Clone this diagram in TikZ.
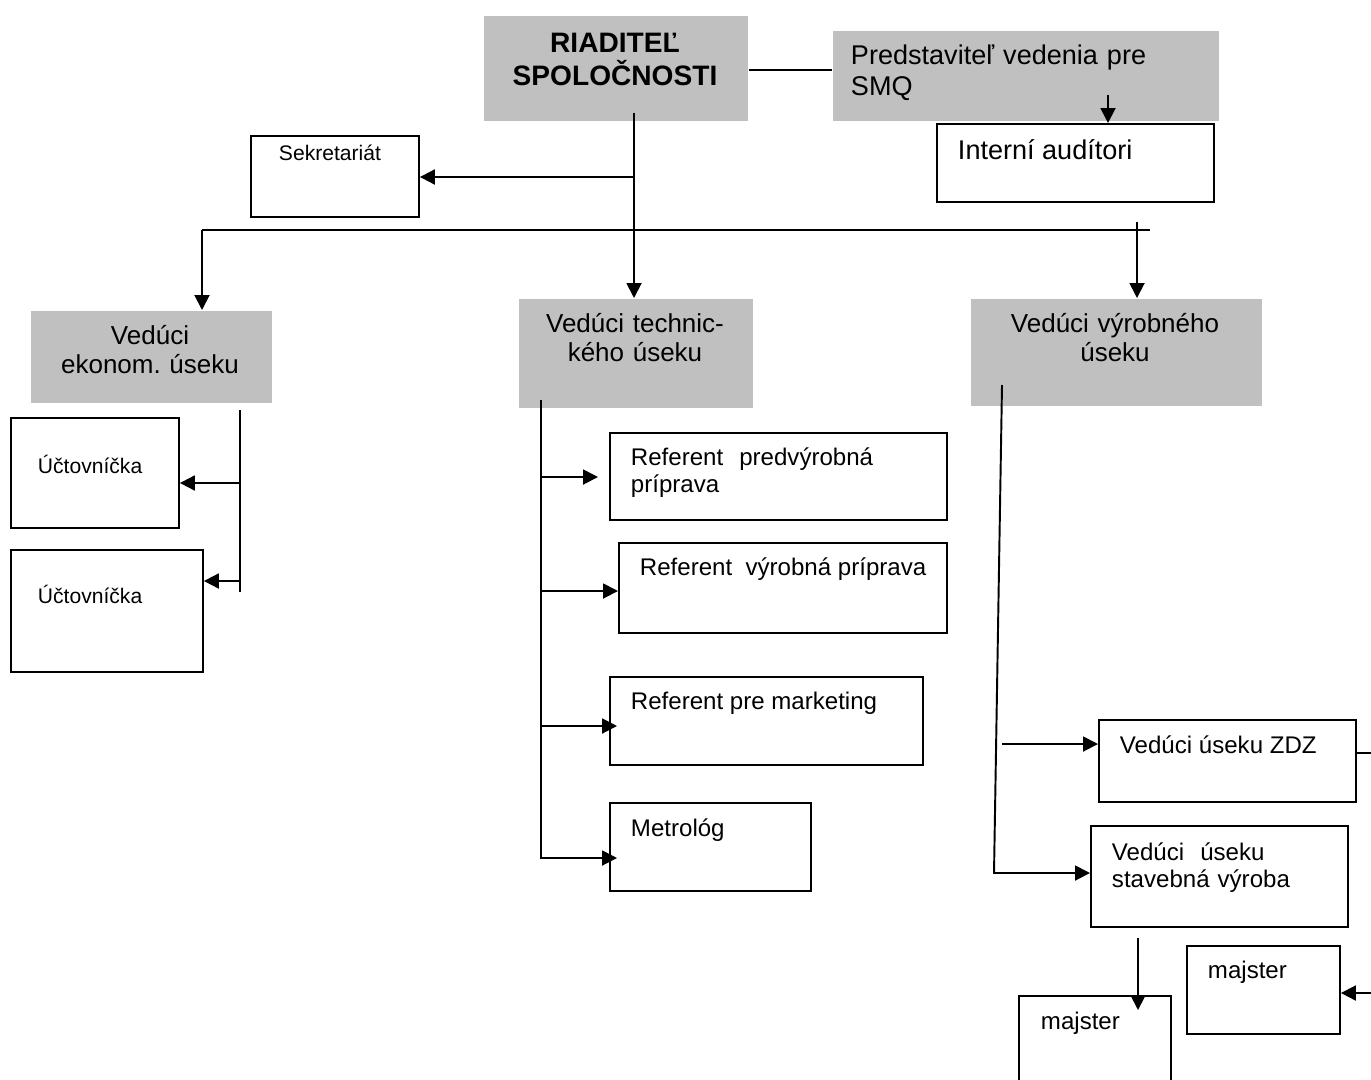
\documentclass[tikz,border=0pt]{standalone}
\usepackage{fontspec}
\setmainfont{Liberation Sans}
\usepackage{xcolor}
\usetikzlibrary{arrows.meta,positioning}
\definecolor{boxgray}{RGB}{192,192,192}
\frenchspacing

\begin{document}
\begin{tikzpicture}[x=0.02cm, y=-0.02cm, line width=1.1pt,
	arr/.style={-{Triangle[length=0.3cm, width=0.3cm]}},
	cell/.style={draw, anchor=north west, inner sep=0pt},
	head/.style={fill=boxgray, anchor=north west, inner sep=0pt},
	txt/.style={anchor=base west, inner sep=0pt, font=\fontsize{13.7}{15.9}\selectfont},
	bigtxt/.style={txt, font=\fontsize{15.4}{18.2}\selectfont},
	smalltxt/.style={txt, font=\fontsize{12}{14}\selectfont},
	htxt/.style={anchor=base, inner sep=0pt, align=center, text width=5.4cm, font=\fontsize{14.8}{17}\selectfont}]
	\useasboundingbox (0,0) rectangle (1371,1079);

	% boxes
	\node (dir) [head, minimum width=5.28cm, minimum height=2.1cm] at (483,15) {};
	\node (smq) [head, minimum width=7.72cm, minimum height=1.8cm] at (832,30) {};
	\node (aud) [cell, minimum width=5.54cm, minimum height=1.56cm] at (936,123) {};
	\node (sekr) [cell, minimum width=3.36cm, minimum height=1.62cm] at (250,135) {};
	\node (ekon) [head, minimum width=4.82cm, minimum height=1.84cm] at (30,310) {};
	\node (tech) [head, minimum width=4.68cm, minimum height=2.18cm] at (518,298) {};
	\node (vyr) [head, minimum width=5.82cm, minimum height=2.14cm] at (970,298) {};
	\node (ucto1) [cell, minimum width=3.36cm, minimum height=2.2cm] at (10,417) {};
	\node (ucto2) [cell, minimum width=3.84cm, minimum height=2.44cm] at (10,549) {};
	\node (ref1) [cell, minimum width=6.74cm, minimum height=1.74cm] at (609,432) {};
	\node (ref2) [cell, minimum width=6.56cm, minimum height=1.8cm] at (618,542) {};
	\node (ref3) [cell, minimum width=6.26cm, minimum height=1.76cm] at (609,676) {};
	\node (metro) [cell, minimum width=4.02cm, minimum height=1.76cm] at (609,802) {};
	\node (zdz) [cell, minimum width=5.14cm, minimum height=1.64cm] at (1098,719) {};
	\node (stav) [cell, minimum width=5.14cm, minimum height=2.02cm] at (1090,825) {};
	\node (majR) [cell, minimum width=3.06cm, minimum height=1.76cm] at (1186,945) {};
	\node (majL) [cell, minimum width=3.04cm, minimum height=1.9cm] at (1018,995) {};

	% top part
	\coordinate (trunk) at (634,113);
	\coordinate (barL) at (202,230);
	\coordinate (barR) at (1150,230);
	\draw (dir.east |- 0,70) -- (smq.west |- 0,70);
	\draw[arr] (1108,95) -- (aud.north -| 1108,0);
	\draw[arr] (trunk) -- (tech.north -| trunk);
	\draw[arr] (trunk |- 0,177) -- (sekr.east |- 0,177);
	\draw (barL) -- (barR);
	\draw[arr] (barL) -- (ekon.north -| barL);
	\draw[arr] (1137,222) -- (vyr.north -| 1137,0);

	% ekonom. usek
	\draw (240,410) -- (240,592);
	\draw[arr] (240,483) -- (ucto1.east |- 0,483);
	\draw[arr] (240,581) -- (ucto2.east |- 0,581);

	% technicky usek
	\draw[arr, shorten >=-0.16cm] (541,400) -- (541,858) -- (metro.west |- 0,858);
	\draw[arr, shorten >=0.22cm] (541,477) -- (ref1.west |- 0,477);
	\draw[arr] (541,591) -- (ref2.west |- 0,591);
	\draw[arr, shorten >=-0.16cm] (541,726) -- (ref3.west |- 0,726);

	% vyrobny usek
	\coordinate (edgeA) at (1371,753);
	\coordinate (edgeB) at (1371,993);
	\draw[arr] (1002,385) -- (994,873) -- (stav.west |- 0,873);
	\draw[arr] (1002,744) -- (zdz.west |- 0,744);
	\draw (zdz.east |- 0,753) -- (edgeA);
	\draw[arr] (edgeB) -- (majR.east |- 0,993);
	\draw[arr, shorten >=-0.3cm] (1138,938) -- (majL.north -| 1138,0);

	% texts
	\node (dirT) [htxt, font=\fontsize{16}{18.8}\selectfont\bfseries] at (615,52) {RIADITEĽ\\SPOLOČNOSTI};
	\node (smqT) [bigtxt, text width=7.4cm, align=left] at (850,64) {Predstaviteľ vedenia pre\\SMQ};
	\node (audT) [bigtxt] at (957,159) {Interní audítori};
	\node (sekrT) [smalltxt] at (278,160) {Sekretariát};
	\node (ekonT) [htxt] at (150,344) {Vedúci\\ekonom. úseku};
	\node (techT) [htxt] at (635,332) {Vedúci technic-\\kého úseku};
	\node (vyrT) [htxt] at (1115,332) {Vedúci výrobného\\úseku};
	\node (ucto1T) [smalltxt] at (37,473) {Účtovníčka};
	\node (ucto2T) [smalltxt] at (37,603) {Účtovníčka};
	\node (ref1T) [txt, text width=6.2cm, align=left] at (630,465) {Referent\ \ predvýrobná\\príprava};
	\node (ref2T) [txt] at (639,575) {Referent\ \ výrobná príprava};
	\node (ref3T) [txt] at (630,709) {Referent pre marketing};
	\node (metroT) [txt] at (630,836) {Metrológ};
	\node (zdzT) [txt] at (1119,753) {Vedúci úseku ZDZ};
	\node (stavT) [txt, text width=5cm, align=left] at (1111,860) {Vedúci\ \ úseku\\stavebná výroba};
	\node (majRT) [txt] at (1207,978) {majster};
	\node (majLT) [txt] at (1040,1029) {majster};
\end{tikzpicture}
\end{document}
